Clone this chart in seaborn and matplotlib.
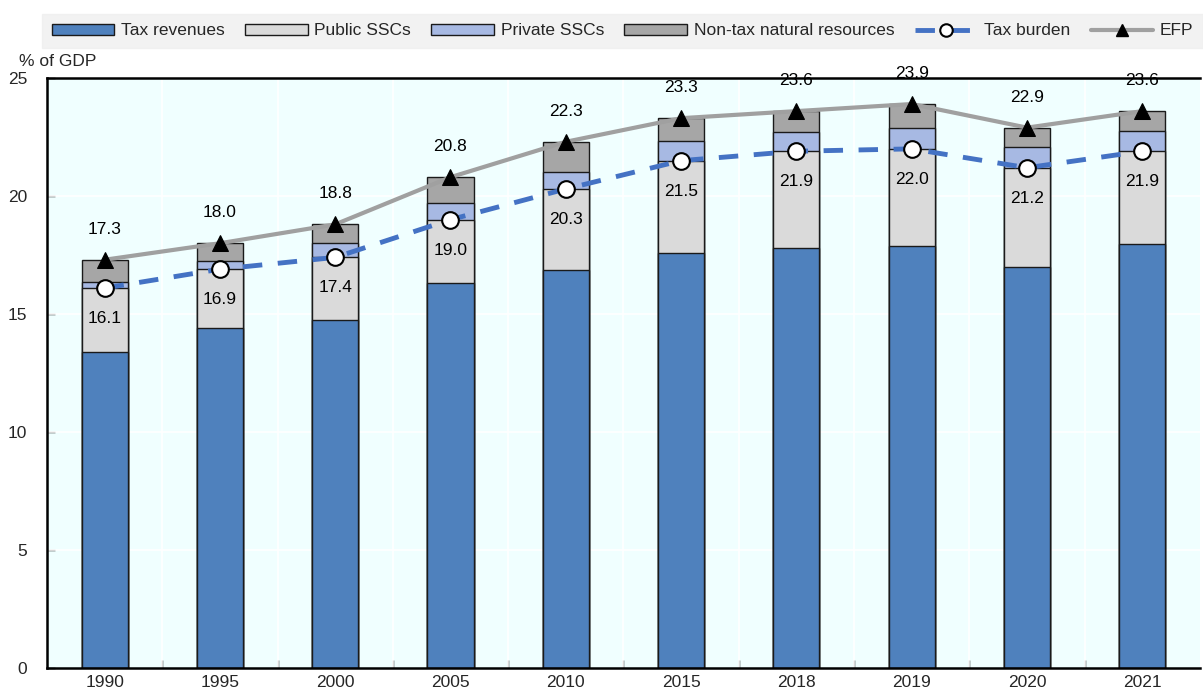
import numpy as np
import pandas as pd
import matplotlib
matplotlib.use("Agg")
import matplotlib.pyplot as plt
from matplotlib.patches import Patch
from matplotlib.lines import Line2D
from matplotlib import font_manager
import seaborn as sns

# Data (% of GDP)
years = ["1990", "1995", "2000", "2005", "2010", "2015", "2018", "2019", "2020", "2021"]
tax_revenues = [13.4, 14.4, 14.75, 16.3, 16.85, 17.6, 17.8, 17.9, 17.0, 17.95]
tax_burden = [16.1, 16.9, 17.4, 19.0, 20.3, 21.5, 21.9, 22.0, 21.2, 21.9]
private_sscs = [0.25, 0.35, 0.6, 0.7, 0.7, 0.85, 0.8, 0.9, 0.9, 0.85]
efp = [17.3, 18.0, 18.8, 20.8, 22.3, 23.3, 23.6, 23.9, 22.9, 23.6]

df = pd.DataFrame({
    "year": years,
    "pos": np.arange(len(years)),
    "tax": tax_revenues,
    "burden": tax_burden,
    "private": private_sscs,
    "efp": efp,
})
df["public"] = df["burden"] - df["tax"]
df["nontax"] = df["efp"] - df["burden"] - df["private"]
df["cum_private"] = df["burden"] + df["private"]

C_TAX = "#4f81bd"
C_PUB = "#dadada"
C_PRIV = "#a7b9e3"
C_NONTAX = "#a6a6a6"
C_BURDEN = "#4472c4"
C_EFP = "#a0a0a0"
BG = "#f0ffff"

sns.set_theme(style="white")
installed = {f.name for f in font_manager.fontManager.ttflist}
narrow = "Liberation Sans Narrow" if "Liberation Sans Narrow" in installed else "Liberation Sans"
plt.rcParams["font.family"] = [narrow, "DejaVu Sans"]
FS = 14 if narrow == "Liberation Sans Narrow" else 12.5

fig = plt.figure(figsize=(12.03, 6.94), dpi=100)
ax = fig.add_axes([0.039, 0.0375, 0.9585, 0.85])
ax.set_facecolor(BG)

# Stacked bars: draw cumulative totals from tallest to shortest
bar_kw = dict(width=0.4, edgecolor="#1a1a1a", linewidth=1.0, ax=ax, zorder=2)
sns.barplot(data=df, x="year", y="efp", color=C_NONTAX, saturation=1, **bar_kw)
sns.barplot(data=df, x="year", y="cum_private", color=C_PRIV, saturation=1, **bar_kw)
sns.barplot(data=df, x="year", y="burden", color=C_PUB, saturation=1, **bar_kw)
sns.barplot(data=df, x="year", y="tax", color=C_TAX, saturation=1, **bar_kw)

# Lines
sns.lineplot(data=df, x="pos", y="efp", color=C_EFP, linewidth=3, marker="^",
             markersize=11, markerfacecolor="black", markeredgecolor="black",
             ax=ax, zorder=4)
sns.lineplot(data=df, x="pos", y="burden", color=C_BURDEN, linewidth=3.5,
             marker="o", markersize=12, markerfacecolor="white",
             markeredgecolor="black", markeredgewidth=1.5, ax=ax, zorder=5)
ax.get_lines()[-1].set_dashes([4, 3.2])

# Value labels
for p, b, e in zip(df["pos"], df["burden"], df["efp"]):
    ax.annotate(f"{e:.1f}", (p, e), xytext=(0, 22), textcoords="offset points",
                ha="center", va="center", fontsize=FS, color="black", zorder=6)
    ax.annotate(f"{b:.1f}", (p, b), xytext=(0, -22), textcoords="offset points",
                ha="center", va="center", fontsize=FS, color="black", zorder=6)

# Axes styling
ax.set_xlim(-0.5, len(years) - 0.5)
ax.set_ylim(0, 25)
ax.set_yticks(np.arange(0, 26, 5))
ax.set_xticks(np.arange(len(years)))
ax.set_xticklabels(years)
ax.set_xticks(np.arange(0.5, len(years) - 0.5, 1), minor=True)
ax.set_xlabel("")
ax.set_ylabel("")
ax.tick_params(axis="y", which="major", direction="in", length=6, width=1,
               labelsize=FS, pad=14, left=True, color="black")
ax.tick_params(axis="x", which="major", length=0, labelsize=FS, pad=5)
ax.tick_params(axis="x", which="minor", direction="in", length=6, width=1,
               bottom=True, color="black")

ax.grid(False)
for y in np.arange(5, 25, 5):
    ax.axhline(y, color="white", linewidth=1.2, zorder=1)
for x in np.arange(0.5, len(years) - 0.5, 1):
    ax.axvline(x, color="white", linewidth=1.2, zorder=1)

for side in ["left", "bottom", "top"]:
    ax.spines[side].set_visible(True)
    ax.spines[side].set_color("black")
    ax.spines[side].set_linewidth(1.8)
ax.spines["right"].set_visible(False)

fig.text(0.016, 0.911, "% of GDP", fontsize=FS, ha="left", va="center")

# Legend
handles = [
    Patch(facecolor=C_TAX, edgecolor="#1a1a1a", label="Tax revenues"),
    Patch(facecolor=C_PUB, edgecolor="#1a1a1a", label="Public SSCs"),
    Patch(facecolor=C_PRIV, edgecolor="#1a1a1a", label="Private SSCs"),
    Patch(facecolor=C_NONTAX, edgecolor="#1a1a1a", label="Non-tax natural resources"),
    Line2D([0], [0], color=C_BURDEN, linewidth=3.5, dashes=[4, 3.2], marker="o",
           markersize=9, markerfacecolor="white", markeredgecolor="black",
           markeredgewidth=1.5, label="Tax burden"),
    Line2D([0], [0], color=C_EFP, linewidth=3, marker="^", markersize=9,
           markerfacecolor="black", markeredgecolor="black", label="EFP"),
]
leg = fig.legend(handles=handles, loc="lower left",
                 bbox_to_anchor=(0.035, 0.931, 0.965, 0.057), mode="expand",
                 ncol=6, frameon=True, fontsize=FS, handlelength=3.6,
                 handleheight=0.6, handletextpad=0.4, columnspacing=1.0,
                 borderaxespad=0, borderpad=0.55, fancybox=False)
leg.get_frame().set_facecolor("#efefef")
leg.get_frame().set_edgecolor("#efefef")

fig.savefig("out.png", dpi=100, facecolor="white")
